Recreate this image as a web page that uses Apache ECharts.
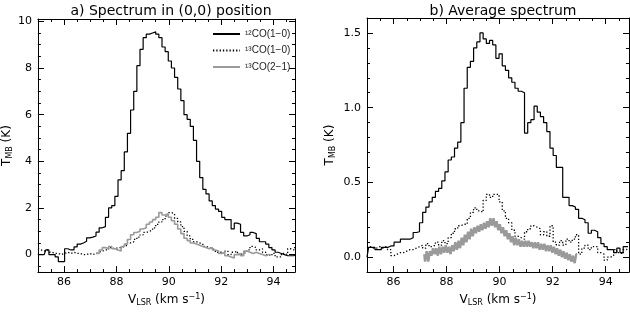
<!DOCTYPE html>
<html>
<head>
<meta charset="utf-8">
<script src="https://cdn.jsdelivr.net/npm/echarts@6/dist/echarts.min.js"></script>
<style>
html,body{margin:0;padding:0;background:#fff;}
#c{width:630px;height:312px;}
</style>
</head>
<body>
<div id="c"></div>
<script>
// ---------- DATA ----------
const velocity = [85.00,85.12,85.24,85.36,85.48,85.60,85.72,85.84,85.96,86.08,
86.20,86.32,86.44,86.56,86.68,86.80,86.92,87.04,87.16,87.28,
87.40,87.52,87.64,87.76,87.88,88.00,88.12,88.24,88.36,88.48,
88.60,88.72,88.84,88.96,89.08,89.20,89.32,89.44,89.56,89.68,
89.80,89.92,90.04,90.16,90.28,90.40,90.52,90.64,90.76,90.88,
91.00,91.12,91.24,91.36,91.48,91.60,91.72,91.84,91.96,92.08,
92.20,92.32,92.44,92.56,92.68,92.80,92.92,93.04,93.16,93.28,
93.40,93.52,93.64,93.76,93.88,94.00,94.12,94.24,94.36,94.48,
94.60,94.72,94.84];

// a) spectrum in (0,0) position
const co12_a = [0.0,0.0,0.0,0.2,0.0,0.0,-0.1,-0.3,-0.3,0.25,
0.2,0.2,0.33,0.45,0.5,0.57,0.72,0.75,0.8,0.96,
1.15,1.2,1.6,2.0,2.1,2.5,3.2,3.6,4.4,5.2,
6.2,7.0,8.1,8.8,9.3,9.45,9.5,9.55,9.45,9.3,
8.9,8.7,8.3,8.0,7.6,7.1,6.6,6.0,5.8,5.5,
4.9,4.0,3.3,2.8,2.6,2.3,2.1,1.95,1.85,1.6,
1.5,1.5,1.1,1.35,1.3,0.95,0.8,0.85,0.95,0.9,
0.7,0.55,0.55,0.45,0.3,0.2,0.1,0.05,0.0,-0.05,
-0.05,-0.05,0.0];
const co13_10_a = [0.25,0.2,0.15,0.2,0.1,0.05,0.05,0.0,0.05,0.1,
0.05,0.1,0.05,0.05,0.0,0.0,0.05,0.0,0.05,0.1,
0.15,0.2,0.2,0.3,0.25,0.3,0.3,0.35,0.4,0.5,
0.55,0.65,0.75,0.85,0.95,1.0,1.05,1.15,1.3,1.4,
1.5,1.65,1.8,1.75,1.55,1.4,1.2,1.0,0.8,0.65,
0.55,0.5,0.45,0.35,0.3,0.25,0.2,0.1,0.1,0.05,
0.15,0.0,0.1,0.15,0.0,0.05,0.1,0.2,0.35,0.3,
0.2,0.25,0.1,0.0,-0.05,0.05,-0.1,-0.1,0.05,0.0,
0.25,0.2,0.3];
const co13_21_a = [null,null,null,null,null,null,null,null,null,null,
null,null,null,null,null,null,null,null,null,0.05,
0.2,0.3,0.25,0.35,0.25,0.2,0.15,0.35,0.45,0.65,
0.85,0.95,1.0,1.1,1.15,1.3,1.4,1.5,1.6,1.8,
1.7,1.75,1.6,1.45,1.3,1.1,0.9,0.7,0.6,0.5,
0.45,0.4,0.35,0.3,0.25,0.3,0.2,0.15,0.05,0.1,
-0.05,-0.1,-0.15,0.0,0.05,-0.05,0.15,0.1,0.05,0.1,
0.05,0.0,-0.05,0.0,null,null,null,null,null,null,
null,null,null];

// b) average spectrum
const co12_b = [0.0,0.065,0.065,0.05,0.05,0.065,0.065,0.075,0.075,0.1,
0.1,0.12,0.12,0.12,0.13,0.165,0.17,0.23,0.30,0.335,
0.37,0.40,0.44,0.46,0.51,0.57,0.65,0.67,0.73,0.77,
0.9,1.13,1.27,1.31,1.40,1.44,1.50,1.46,1.43,1.45,
1.42,1.33,1.36,1.28,1.25,1.20,1.17,1.13,1.11,1.10,
0.83,0.90,0.92,1.01,0.97,0.94,0.90,0.84,0.73,0.68,
0.60,0.60,0.40,0.40,0.345,0.335,0.32,0.26,0.25,0.23,
0.16,0.18,0.17,0.13,0.09,0.07,0.05,0.05,0.03,0.06,
0.03,0.07,0.07];
const co13_10_b = [0.06,0.07,0.06,0.06,0.07,0.06,0.07,0.05,0.01,0.02,
0.03,0.03,0.04,0.05,0.05,0.06,0.07,0.08,0.06,0.09,
0.07,0.08,0.10,0.08,0.11,0.09,0.13,0.16,0.19,0.21,
0.22,0.22,0.26,0.30,0.33,0.31,0.30,0.38,0.42,0.40,
0.42,0.42,0.37,0.31,0.26,0.23,0.18,0.14,0.13,0.12,
0.17,0.19,0.21,0.20,0.19,0.15,0.17,0.14,0.21,0.10,
0.08,0.11,0.08,0.12,0.10,0.12,0.15,0.02,0.06,0.08,
0.05,0.07,0.07,0.03,0.02,-0.02,0.0,0.01,0.05,0.03,
0.02,0.05,0.06];
const velocity_21b = [87.16,87.22,87.28,87.34,87.40,87.46,87.52,87.58,87.64,87.70,
87.76,87.82,87.88,87.94,88.00,88.06,88.12,88.18,88.24,88.30,
88.36,88.42,88.48,88.54,88.60,88.66,88.72,88.78,88.84,88.90,
88.96,89.02,89.08,89.14,89.20,89.26,89.32,89.38,89.44,89.50,
89.56,89.62,89.68,89.74,89.80,89.86,89.92,89.98,90.04,90.10,
90.16,90.22,90.28,90.34,90.40,90.46,90.52,90.58,90.64,90.70,
90.76,90.82,90.88,90.94,91.00,91.06,91.12,91.18,91.24,91.30,
91.36,91.42,91.48,91.54,91.60,91.66,91.72,91.78,91.84,91.90,
91.96,92.02,92.08,92.14,92.20,92.26,92.32,92.38,92.44,92.50,
92.56,92.62,92.68,92.74,92.80,92.86,92.92];
const co13_21_b = [0.02,-0.03,0.04,-0.03,0.04,0.01,0.06,0.02,0.06,0.01,
0.07,0.02,0.07,0.03,0.08,0.03,0.07,0.02,0.08,0.04,
0.10,0.05,0.11,0.06,0.13,0.08,0.15,0.10,0.17,0.12,
0.19,0.14,0.20,0.16,0.21,0.17,0.22,0.18,0.23,0.19,
0.24,0.20,0.26,0.21,0.26,0.20,0.24,0.18,0.22,0.16,
0.20,0.14,0.18,0.12,0.16,0.10,0.14,0.08,0.13,0.08,
0.12,0.07,0.11,0.07,0.11,0.07,0.11,0.07,0.10,0.06,
0.10,0.06,0.10,0.05,0.09,0.05,0.09,0.04,0.08,0.04,
0.08,0.03,0.07,0.02,0.06,0.01,0.05,0.00,0.04,-0.01,
0.03,-0.02,0.02,-0.03,0.01,-0.04,0.02];

// tick values
const xMajor = [86,88,90,92,94];
const xMinor = [85.5,86.5,87,87.5,88.5,89,89.5,90.5,91,91.5,92.5,93,93.5,94.5];
const yMajorA = [0,2,4,6,8,10];
const yMinorA = [-0.5,0.5,1,1.5,2.5,3,3.5,4.5,5,5.5,6.5,7,7.5,8.5,9,9.5];
const yMajorB = [0,0.5,1.0,1.5];
const yMinorB = [0.1,0.2,0.3,0.4,0.6,0.7,0.8,0.9,1.1,1.2,1.3,1.4];

const names = ['\u00b9\u00b2CO(1\u22120)','\u00b9\u00b3CO(1\u22120)','\u00b9\u00b3CO(2\u22121)'];
const titles = ['a) Spectrum in (0,0) position','b) Average spectrum'];

// ---------- CHART ----------
const FONT = 'DejaVu Sans';
function pairs(xs, ys){ return xs.map((x,i)=>[x, ys[i]]); }

function axisSet(kind, grid, min, max, major, minor, fmt, nameCfg){
  const pos = kind==='x' ? ['bottom','top'] : ['left','right'];
  const out = [];
  pos.forEach((p, k)=>{
    out.push({
      type:'value', gridIndex:grid, position:p, min:min, max:max,
      axisLine:{show:true, onZero:false, lineStyle:{color:'#000', width:1}},
      axisTick:{show:true, inside:true, length:6, customValues:major, lineStyle:{color:'#000', width:1}},
      axisLabel:{show:k===0, customValues:major, formatter:fmt, color:'#000', fontFamily:FONT, fontSize:11,
                 margin: kind==='x' ? 5 : 6},
      splitLine:{show:false},
      name: k===0 && nameCfg ? nameCfg.name : '',
      nameLocation:'middle', nameGap: nameCfg ? nameCfg.gap : 0,
      nameTextStyle: nameCfg ? nameCfg.style : {}
    });
    out.push({
      type:'value', gridIndex:grid, position:p, min:min, max:max,
      axisLine:{show:false, onZero:false},
      axisTick:{show:true, inside:true, length:3, customValues:minor, lineStyle:{color:'#000', width:1}},
      axisLabel:{show:false}, splitLine:{show:false}
    });
  });
  return out;
}

const xName = {
  name:'{n|V}{s|LSR}{n| (km s}{p|\u22121}{n|)}', gap:19,
  style:{rich:{
    n:{fontFamily:FONT, fontSize:12, color:'#000'},
    s:{fontFamily:FONT, fontSize:8, color:'#000', verticalAlign:'bottom', padding:[6,0,0,0]},
    p:{fontFamily:FONT, fontSize:8, color:'#000', verticalAlign:'top', padding:[0,0,6,0]}
  }}
};
function yName(gap){ return {
  name:'{n|T}{s|MB}{n| (K)}', gap:gap,
  style:{rich:{
    n:{fontFamily:FONT, fontSize:12, color:'#000'},
    s:{fontFamily:FONT, fontSize:8, color:'#000', verticalAlign:'bottom', padding:[6,0,0,0]}
  }}
};}

const xAxes = [].concat(
  axisSet('x', 0, 85, 94.82, xMajor, xMinor, v=>String(v), xName),
  axisSet('x', 1, 85, 94.88, xMajor, xMinor, v=>String(v), xName)
);
const yAxes = [].concat(
  axisSet('y', 0, -0.75, 10.1, yMajorA, yMinorA, v=>String(v), yName(22)),
  axisSet('y', 1, -0.1, 1.6, yMajorB, yMinorB, v=>v.toFixed(1), yName(30))
);

const black = {color:'#000', width:1.2};
const dotted = {color:'#000', width:1.3, type:[1.3,2]};
const grayA = {color:'#9a9a9a', width:1.6};
const grayB = {color:'#9a9a9a', width:2.4};

function ser(name, xi, yi, data, ls, z){
  return {type:'line', name:name, xAxisIndex:xi, yAxisIndex:yi, data:data, step:'middle',
    symbol:'none', lineStyle:ls, itemStyle:{color:ls.color}, z:z, silent:true, clip:true};
}

const series = [
  ser(names[1], 0, 0, pairs(velocity, co13_10_a), dotted, 2),
  ser(names[2], 0, 0, pairs(velocity, co13_21_a), grayA, 3),
  ser(names[0], 0, 0, pairs(velocity, co12_a), black, 4),
  ser(names[1], 4, 4, pairs(velocity, co13_10_b), dotted, 2),
  ser(names[2], 4, 4, pairs(velocity_21b, co13_21_b), grayB, 3),
  ser(names[0], 4, 4, pairs(velocity, co12_b), black, 4)
];

const chart = echarts.init(document.getElementById('c'), null, {renderer:'canvas'});
chart.setOption({
  animation:false,
  backgroundColor:'#fff',
  title:[
    {text:titles[0], left:166, top:-1, textAlign:'center', textStyle:{fontFamily:FONT, fontSize:14, fontWeight:'normal', color:'#000'}},
    {text:titles[1], left:498, top:-1, textAlign:'center', textStyle:{fontFamily:FONT, fontSize:14, fontWeight:'normal', color:'#000'}}
  ],
  legend:{
    data:[names[0], names[1], names[2]],
    orient:'vertical', left:212, top:29, padding:0, itemWidth:27, itemHeight:10, itemGap:6.5,
    itemStyle:{opacity:0, borderWidth:0},
    textStyle:{fontFamily:'Liberation Sans', fontSize:10, color:'#222', width:60, overflow:'none'},
    selectedMode:false
  },
  grid:[
    {left:36, top:19, width:259, height:260},
    {left:367, top:18, width:262, height:261}
  ],
  xAxis:xAxes,
  yAxis:yAxes,
  series:series
});
</script>
</body>
</html>
